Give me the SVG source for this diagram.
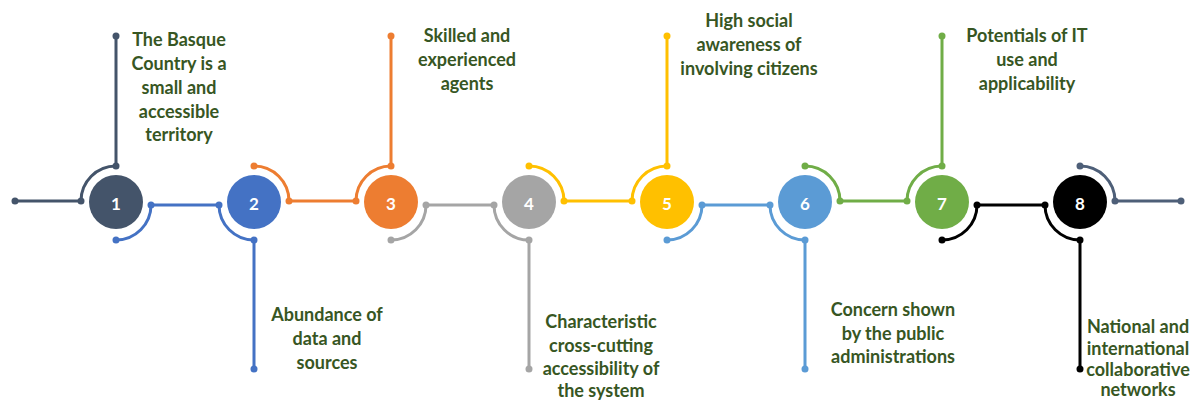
<svg xmlns="http://www.w3.org/2000/svg" width="1192" height="401" viewBox="0 0 1192 401">
<style>
.ln{fill:none;stroke-width:3;stroke-linecap:round}
.num{font-family:Lato,"Liberation Sans",sans-serif;font-size:17px;font-weight:bold;fill:#fff;text-anchor:middle;dominant-baseline:central}
.lbl{font-family:Lato,"Liberation Sans",sans-serif;font-weight:bold;font-size:18px;fill:#375623;text-anchor:middle}
.c1{stroke:#44546A;fill:#44546A}.c2{stroke:#4472C4;fill:#4472C4}.c3{stroke:#ED7D31;fill:#ED7D31}.c4{stroke:#A5A5A5;fill:#A5A5A5}
.c5{stroke:#FFC000;fill:#FFC000}.c6{stroke:#5B9BD5;fill:#5B9BD5}.c7{stroke:#70AD47;fill:#70AD47}.c8{stroke:#000;fill:#000}.c9{stroke:#4E5F78;fill:#4E5F78}
</style>
<rect width="1192" height="401" fill="#fff"/>
<g id="connectors">
  <g class="c1"><path class="ln" d="M15,201 H81 A35,35 0 0 1 116,166 V36"/><circle cx="15" cy="201" r="3.5" stroke="none"/><circle cx="81" cy="201" r="3.5" stroke="none"/><circle cx="116" cy="166" r="3.5" stroke="none"/><circle cx="116" cy="36" r="3.5" stroke="none"/></g>
  <g class="c2"><path class="ln" d="M116,240 A35,35 0 0 0 151,205 H219 A35,35 0 0 0 254,240 V369"/><circle cx="116" cy="240" r="3.5" stroke="none"/><circle cx="151" cy="205" r="3.5" stroke="none"/><circle cx="219" cy="205" r="3.5" stroke="none"/><circle cx="254" cy="240" r="3.5" stroke="none"/><circle cx="254" cy="369" r="3.5" stroke="none"/></g>
  <g class="c3"><path class="ln" d="M254,166 A35,35 0 0 1 289,201 H356 A35,35 0 0 1 391,166 V36"/><circle cx="254" cy="166" r="3.5" stroke="none"/><circle cx="289" cy="201" r="3.5" stroke="none"/><circle cx="356" cy="201" r="3.5" stroke="none"/><circle cx="391" cy="166" r="3.5" stroke="none"/><circle cx="391" cy="36" r="3.5" stroke="none"/></g>
  <g class="c4"><path class="ln" d="M391,240 A35,35 0 0 0 426,205 H494 A35,35 0 0 0 529,240 V369"/><circle cx="391" cy="240" r="3.5" stroke="none"/><circle cx="426" cy="205" r="3.5" stroke="none"/><circle cx="494" cy="205" r="3.5" stroke="none"/><circle cx="529" cy="240" r="3.5" stroke="none"/><circle cx="529" cy="369" r="3.5" stroke="none"/></g>
  <g class="c5"><path class="ln" d="M529,166 A35,35 0 0 1 564,201 H632 A35,35 0 0 1 667,166 V36"/><circle cx="529" cy="166" r="3.5" stroke="none"/><circle cx="564" cy="201" r="3.5" stroke="none"/><circle cx="632" cy="201" r="3.5" stroke="none"/><circle cx="667" cy="166" r="3.5" stroke="none"/><circle cx="667" cy="36" r="3.5" stroke="none"/></g>
  <g class="c6"><path class="ln" d="M667,240 A35,35 0 0 0 702,205 H770 A35,35 0 0 0 805,240 V369"/><circle cx="667" cy="240" r="3.5" stroke="none"/><circle cx="702" cy="205" r="3.5" stroke="none"/><circle cx="770" cy="205" r="3.5" stroke="none"/><circle cx="805" cy="240" r="3.5" stroke="none"/><circle cx="805" cy="369" r="3.5" stroke="none"/></g>
  <g class="c7"><path class="ln" d="M805,166 A35,35 0 0 1 840,201 H907 A35,35 0 0 1 942,166 V36"/><circle cx="805" cy="166" r="3.5" stroke="none"/><circle cx="840" cy="201" r="3.5" stroke="none"/><circle cx="907" cy="201" r="3.5" stroke="none"/><circle cx="942" cy="166" r="3.5" stroke="none"/><circle cx="942" cy="36" r="3.5" stroke="none"/></g>
  <g class="c8"><path class="ln" d="M942,240 A35,35 0 0 0 977,205 H1045 A35,35 0 0 0 1080,240 V369"/><circle cx="942" cy="240" r="3.5" stroke="none"/><circle cx="977" cy="205" r="3.5" stroke="none"/><circle cx="1045" cy="205" r="3.5" stroke="none"/><circle cx="1080" cy="240" r="3.5" stroke="none"/><circle cx="1080" cy="369" r="3.5" stroke="none"/></g>
  <g class="c9"><path class="ln" d="M1080,166 A35,35 0 0 1 1115,201 H1181"/><circle cx="1080" cy="166" r="3.5" stroke="none"/><circle cx="1115" cy="201" r="3.5" stroke="none"/><circle cx="1181" cy="201" r="3.5" stroke="none"/></g>
</g>
<g id="node1"><circle cx="116" cy="202" r="27" fill="#44546A"/><text class="num" x="116" y="203">1</text>
  <text class="lbl"><tspan x="179" y="46">The Basque</tspan><tspan x="179" y="70">Country is a</tspan><tspan x="179" y="94">small and</tspan><tspan x="179" y="118">accessible</tspan><tspan x="179" y="141">territory</tspan></text></g>
<g id="node2"><circle cx="254" cy="202" r="27" fill="#4472C4"/><text class="num" x="254" y="203">2</text>
  <text class="lbl"><tspan x="327" y="321">Abundance of</tspan><tspan x="327" y="345">data and</tspan><tspan x="327" y="369">sources</tspan></text></g>
<g id="node3"><circle cx="391" cy="202" r="27" fill="#ED7D31"/><text class="num" x="391" y="203">3</text>
  <text class="lbl"><tspan x="467" y="42">Skilled and</tspan><tspan x="467" y="66">experienced</tspan><tspan x="467" y="90">agents</tspan></text></g>
<g id="node4"><circle cx="529" cy="202" r="27" fill="#A5A5A5"/><text class="num" x="529" y="203">4</text>
  <text class="lbl"><tspan x="601" y="328">Characteristic</tspan><tspan x="601" y="352">cross-cutting</tspan><tspan x="601" y="375">accessibility of</tspan><tspan x="601" y="397">the system</tspan></text></g>
<g id="node5"><circle cx="667" cy="202" r="27" fill="#FFC000"/><text class="num" x="667" y="203">5</text>
  <text class="lbl"><tspan x="749" y="27">High social</tspan><tspan x="749" y="51">awareness of</tspan><tspan x="749" y="75">involving citizens</tspan></text></g>
<g id="node6"><circle cx="805" cy="202" r="27" fill="#5B9BD5"/><text class="num" x="805" y="203">6</text>
  <text class="lbl"><tspan x="893" y="316">Concern shown</tspan><tspan x="893" y="340">by the public</tspan><tspan x="893" y="363">administrations</tspan></text></g>
<g id="node7"><circle cx="942" cy="202" r="27" fill="#70AD47"/><text class="num" x="942" y="203">7</text>
  <text class="lbl"><tspan x="1027" y="42">Potentials of IT</tspan><tspan x="1027" y="66">use and</tspan><tspan x="1027" y="90">applicability</tspan></text></g>
<g id="node8"><circle cx="1080" cy="202" r="27" fill="#000"/><text class="num" x="1080" y="203">8</text>
  <text class="lbl"><tspan x="1138" y="333">National and</tspan><tspan x="1138" y="355">international</tspan><tspan x="1138" y="376">collaborative</tspan><tspan x="1138" y="396">networks</tspan></text></g>
</svg>
